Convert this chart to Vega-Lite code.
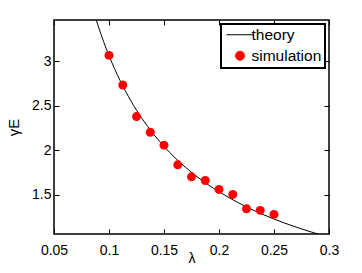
{
  "$schema": "https://vega.github.io/schema/vega-lite/v6.json",
  "width": 275,
  "height": 214,
  "autosize": {"type": "none"},
  "padding": {"left": 54, "top": 20, "right": 33, "bottom": 39},
  "background": "white",
  "config": {
    "view": {"stroke": "black", "strokeWidth": 1.5},
    "axis": {
      "grid": false,
      "domain": false,
      "labelFont": "Liberation Sans",
      "labelFontSize": 14,
      "labelColor": "black",
      "tickColor": "black",
      "tickSize": 5,
      "tickWidth": 1,
      "titleFont": "Liberation Sans",
      "titleFontSize": 14,
      "titleFontWeight": "normal",
      "titleColor": "black"
    }
  },
  "datasets": {
    "theory": [
      {"lambda": 0.085, "gamma": 3.599, "series": "theory"},
      {"lambda": 0.09, "gamma": 3.399, "series": "theory"},
      {"lambda": 0.095, "gamma": 3.221, "series": "theory"},
      {"lambda": 0.1, "gamma": 3.060, "series": "theory"},
      {"lambda": 0.105, "gamma": 2.915, "series": "theory"},
      {"lambda": 0.11, "gamma": 2.782, "series": "theory"},
      {"lambda": 0.115, "gamma": 2.662, "series": "theory"},
      {"lambda": 0.12, "gamma": 2.551, "series": "theory"},
      {"lambda": 0.13, "gamma": 2.355, "series": "theory"},
      {"lambda": 0.14, "gamma": 2.188, "series": "theory"},
      {"lambda": 0.15, "gamma": 2.042, "series": "theory"},
      {"lambda": 0.16, "gamma": 1.915, "series": "theory"},
      {"lambda": 0.17, "gamma": 1.803, "series": "theory"},
      {"lambda": 0.18, "gamma": 1.703, "series": "theory"},
      {"lambda": 0.19, "gamma": 1.614, "series": "theory"},
      {"lambda": 0.2, "gamma": 1.534, "series": "theory"},
      {"lambda": 0.21, "gamma": 1.461, "series": "theory"},
      {"lambda": 0.22, "gamma": 1.395, "series": "theory"},
      {"lambda": 0.23, "gamma": 1.334, "series": "theory"},
      {"lambda": 0.24, "gamma": 1.279, "series": "theory"},
      {"lambda": 0.25, "gamma": 1.228, "series": "theory"},
      {"lambda": 0.26, "gamma": 1.181, "series": "theory"},
      {"lambda": 0.27, "gamma": 1.138, "series": "theory"},
      {"lambda": 0.28, "gamma": 1.097, "series": "theory"},
      {"lambda": 0.29, "gamma": 1.060, "series": "theory"},
      {"lambda": 0.3, "gamma": 1.025, "series": "theory"}
    ],
    "sim": [
      {"lambda": 0.1, "gamma": 3.063, "series": "simulation"},
      {"lambda": 0.1125, "gamma": 2.731, "series": "simulation"},
      {"lambda": 0.125, "gamma": 2.377, "series": "simulation"},
      {"lambda": 0.1375, "gamma": 2.201, "series": "simulation"},
      {"lambda": 0.15, "gamma": 2.056, "series": "simulation"},
      {"lambda": 0.1625, "gamma": 1.836, "series": "simulation"},
      {"lambda": 0.175, "gamma": 1.701, "series": "simulation"},
      {"lambda": 0.1875, "gamma": 1.660, "series": "simulation"},
      {"lambda": 0.2, "gamma": 1.560, "series": "simulation"},
      {"lambda": 0.2125, "gamma": 1.504, "series": "simulation"},
      {"lambda": 0.225, "gamma": 1.343, "series": "simulation"},
      {"lambda": 0.2375, "gamma": 1.325, "series": "simulation"},
      {"lambda": 0.25, "gamma": 1.280, "series": "simulation"}
    ]
  },
  "resolve": {"axis": {"x": "independent", "y": "independent"}},
  "layer": [
    {
      "data": {"name": "theory"},
      "mark": {"type": "line", "clip": true, "strokeWidth": 1, "interpolate": "monotone"},
      "encoding": {
        "x": {
          "field": "lambda", "type": "quantitative",
          "scale": {"domain": [0.05, 0.3], "nice": false, "zero": false},
          "axis": {"title": "λ", "values": [0.05, 0.1, 0.15, 0.2, 0.25, 0.3], "format": "~g", "tickSize": 0, "labelPadding": 9, "titlePadding": -6, "labelFlush": false}
        },
        "y": {
          "field": "gamma", "type": "quantitative",
          "scale": {"domain": [1.06, 3.46], "nice": false, "zero": false},
          "axis": {"title": "γE", "values": [1.5, 2, 2.5, 3], "format": "~g", "tickSize": 0, "labelPadding": 3, "titlePadding": 10, "titleFontSize": 15}
        },
        "color": {
          "field": "series", "type": "nominal",
          "scale": {"domain": ["theory", "simulation"], "range": ["black", "#ff0000"]},
          "legend": {
            "title": null,
            "orient": "top-right",
            "offset": 4,
            "padding": 3,
            "strokeColor": "black",
            "fillColor": "white",
            "labelFont": "Liberation Sans",
            "labelFontSize": 15.5,
            "labelColor": "black",
            "labelOffset": 12,
            "rowPadding": 4,
            "symbolType": "circle",
            "symbolSize": 80,
            "encode": {
              "legend": {"update": {"strokeWidth": {"value": 2}}},
              "symbols": {
                "update": {
                  "x": {"value": 16},
                  "shape": {"signal": "datum.value === 'theory' ? 'stroke' : 'circle'"},
                  "size": {"signal": "datum.value === 'theory' ? 729 : 80"},
                  "stroke": {"signal": "datum.value === 'theory' ? 'black' : 'transparent'"},
                  "strokeWidth": {"value": 1},
                  "fill": {"signal": "datum.value === 'theory' ? 'transparent' : '#ff0000'"}
                }
              }
            }
          }
        }
      }
    },
    {
      "data": {"name": "sim"},
      "mark": {"type": "point", "filled": true, "opacity": 1, "size": 80, "shape": "circle"},
      "encoding": {
        "x": {
          "field": "lambda", "type": "quantitative",
          "axis": {"orient": "top", "offset": -214, "title": null, "labels": false, "values": [0.05, 0.1, 0.15, 0.2, 0.25, 0.3]}
        },
        "y": {
          "field": "gamma", "type": "quantitative",
          "axis": {"orient": "right", "offset": -275, "title": null, "labels": false, "values": [1.5, 2, 2.5, 3]}
        },
        "color": {"field": "series", "type": "nominal"}
      }
    },
    {
      "data": {"name": "sim"},
      "mark": {"type": "point", "opacity": 0},
      "encoding": {
        "x": {
          "field": "lambda", "type": "quantitative",
          "axis": {"orient": "bottom", "offset": -214, "title": null, "labels": false, "values": [0.05, 0.1, 0.15, 0.2, 0.25, 0.3]}
        },
        "y": {
          "field": "gamma", "type": "quantitative",
          "axis": {"orient": "left", "offset": -275, "title": null, "labels": false, "values": [1.5, 2, 2.5, 3]}
        }
      }
    }
  ]
}
